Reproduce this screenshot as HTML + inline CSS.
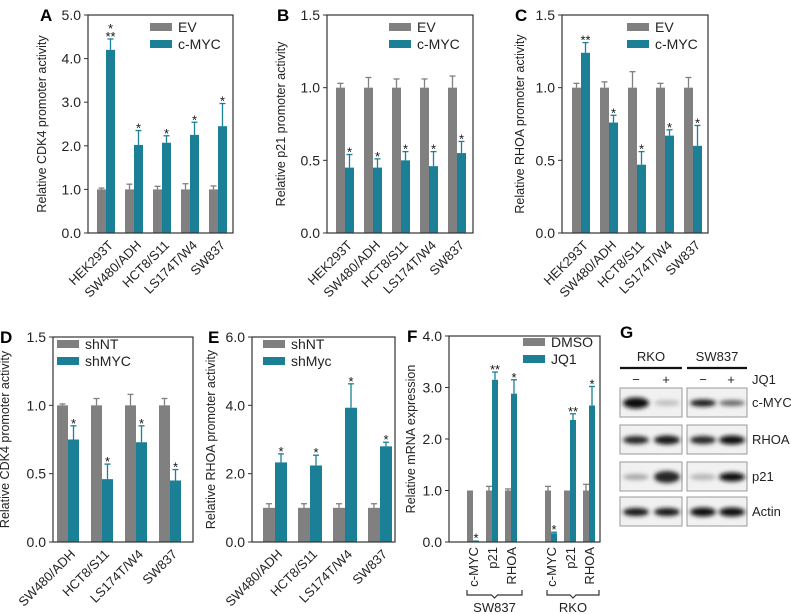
<!DOCTYPE html>
<html><head><meta charset="utf-8"><style>
html,body{margin:0;padding:0;background:#fff}
svg{display:block;font-family:"Liberation Sans",Arial,sans-serif}
</style></head><body>
<svg id="fig" width="791" height="614" viewBox="0 0 791 614">
<defs><filter id="blur" x="-50%" y="-100%" width="200%" height="300%"><feGaussianBlur stdDeviation="2.2"/></filter></defs>
</svg>
<script>
const aCats=["HEK293T","SW480/ADH","HCT8/S11","LS174T/W4","SW837"];
const aEV=[1,1,1,1,1]; const aEVerr=[0.03,0.12,0.07,0.13,0.08];
const aMYC=[4.2,2.02,2.07,2.25,2.45]; const aMYCerr=[0.25,0.33,0.16,0.29,0.52];
const aSig=["*|**","*","*","*","*"];
const aTicks=[0,1,2,3,4,5];
const bEV=[1,1,1,1,1]; const bEVerr=[0.03,0.07,0.06,0.06,0.08];
const bMYC=[0.45,0.45,0.5,0.46,0.55]; const bMYCerr=[0.09,0.06,0.06,0.1,0.08];
const bSig=["*","*","*","*","*"];
const bTicks=[0,0.5,1.0,1.5];
const cEV=[1,1,1,1,1]; const cEVerr=[0.03,0.04,0.11,0.03,0.07];
const cMYC=[1.24,0.76,0.47,0.67,0.6]; const cMYCerr=[0.07,0.05,0.09,0.04,0.14];
const cSig=["**","*","*","*","*"];
const dCats=["SW480/ADH","HCT8/S11","LS174T/W4","SW837"];
const dNT=[1,1,1,1]; const dNTerr=[0.01,0.05,0.08,0.05];
const dSH=[0.75,0.46,0.73,0.45]; const dSHerr=[0.1,0.11,0.12,0.08];
const dSig=["*","*","*","*"];
const eNT=[1,1,1,1]; const eNTerr=[0.12,0.12,0.12,0.12];
const eSH=[2.33,2.24,3.93,2.8]; const eSHerr=[0.25,0.3,0.7,0.12];
const eSig=["*","*","*","*"];
const eTicks=[0,2,4,6];
const fCats=["c-MYC","p21","RHOA","c-MYC","p21","RHOA"];
const fDMSO=[1,1,1,1,1,1]; const fDMSOerr=[0,0.08,0.03,0.08,0,0.12];
const fJQ1=[0.03,3.15,2.88,0.17,2.37,2.65]; const fJQ1err=[0,0.15,0.27,0.02,0.12,0.37];
const fSig=["*","**","*","*","**","*"];
const fTicks=[0,1,2,3,4];

const GRAY="#808080", TEAL="#1b8096";
const svg=document.getElementById('fig');
const NS="http://www.w3.org/2000/svg";
function mk(tag,attrs,parent,text){const e=document.createElementNS(NS,tag);for(const k in attrs)e.setAttribute(k,attrs[k]);if(text!==undefined)e.textContent=text;(parent||svg).appendChild(e);return e;}

function panel(p){
  const g=mk('g',{});
  
  
  const ymax=p.ticks[p.ticks.length-1];
  const y=v=>p.y0-(v/ymax)*(p.y0-p.top);
  const L=mk('text',{x:p.letterX,y:p.top+6,'font-size':17,'font-weight':'bold'},g,p.letter);
  
  
  p.ticks.forEach(t=>{
    const yy=y(t);
    mk('line',{x1:p.x0-4,x2:p.x0,y1:yy,y2:yy,stroke:'#333','stroke-width':1},g);
    const tt=mk('text',{x:p.x0-7,y:yy+5,'font-size':14,'text-anchor':'end',fill:'#222'},g,t.toFixed(1));
    
    
  });
  const yt=mk('text',{x:0,y:0,'font-size':12.5,'text-anchor':'middle',fill:'#222',transform:`translate(${p.x0-p.titleOff},${(p.top+p.y0)/2}) rotate(-90)`},g,p.title);
  
  
  const w=p.bw;
  p.cats.forEach((c,i)=>{
    const cx=p.x0+p.off+p.pos(i);
    [[p.s1,p.e1,GRAY,-1],[p.s2,p.e2,TEAL,0]].forEach(([s,e,col,side])=>{
      const bx=cx+side*w;
      const r=mk('rect',{x:bx,y:y(s[i]),width:w,height:p.y0-y(s[i]),fill:col},g);
      
      
      if(e[i]>0){
        const ey=y(s[i]+e[i]);const mx=bx+w/2;
        mk('line',{x1:mx,x2:mx,y1:y(s[i]),y2:ey,stroke:col,'stroke-width':1.3},g);
        mk('line',{x1:mx-3,x2:mx+3,y1:ey,y2:ey,stroke:col,'stroke-width':1.3},g);
      }
    });
    const top=y(p.s2[i]+p.e2[i]);
    const parts=p.sig[i].split('|');
    parts.reverse().forEach((sg,k)=>{
      const st=mk('text',{x:cx+w/2,y:top+2-k*8,'font-size':13,'text-anchor':'middle',fill:'#111'},g,sg);
      
      
    });
    let lt;
    if(p.vertical){
      lt=mk('text',{x:0,y:0,'font-size':13,'text-anchor':'end',fill:'#222',transform:`translate(${cx+5},${p.y0+5}) rotate(-90)`},g,c);
    }else{
      lt=mk('text',{x:0,y:0,'font-size':13,'text-anchor':'end',fill:'#222',transform:`translate(${cx+8},${p.y0+13}) rotate(-45)`},g,c);
    }
    
    
  });
  mk('rect',{x:p.x0,y:p.top,width:p.x1-p.x0,height:p.y0-p.top,fill:'none',stroke:'#333','stroke-width':1.2},g);
  p.legend.forEach((lab,k)=>{
    const ly=p.legY+k*17;
    const sw=mk('rect',{x:p.legX,y:ly,width:22,height:8,fill:k?TEAL:GRAY},g);
    
    
    const tx=mk('text',{x:p.legX+28,y:ly+9,'font-size':14,fill:'#222'},g,lab);
    
    
  });
}
const abcPos=i=>28*i;
panel({name:'panel-a',letter:'A',letterX:40,x0:88,x1:233,top:15,y0:233,off:18,pos:abcPos,bw:9,ticks:aTicks,cats:aCats,s1:aEV,e1:aEVerr,s2:aMYC,e2:aMYCerr,sig:aSig,title:'Relative CDK4 promoter activity',titleOff:42,legend:['EV','c-MYC'],legX:150,legY:23});
panel({name:'panel-b',letter:'B',letterX:277,x0:327,x1:473,top:15,y0:233,off:18,pos:abcPos,bw:9,ticks:bTicks,cats:aCats,s1:bEV,e1:bEVerr,s2:bMYC,e2:bMYCerr,sig:bSig,title:'Relative p21 promoter activity',titleOff:42,legend:['EV','c-MYC'],legX:389,legY:23});
panel({name:'panel-c',letter:'C',letterX:515,x0:562,x1:708,top:15,y0:233,off:19,pos:abcPos,bw:9,ticks:bTicks,cats:aCats,s1:cEV,e1:cEVerr,s2:cMYC,e2:cMYCerr,sig:cSig,title:'Relative RHOA promoter activity',titleOff:38,legend:['EV','c-MYC'],legX:627,legY:23});
panel({name:'panel-d',letter:'D',letterX:0,x0:53,x1:193,top:337,y0:542,off:15,pos:i=>34*i,bw:11,ticks:bTicks,cats:dCats,s1:dNT,e1:dNTerr,s2:dSH,e2:dSHerr,sig:dSig,title:'Relative CDK4 promoter activity',titleOff:44,legend:['shNT','shMYC'],legX:57,legY:340});
panel({name:'panel-e',letter:'E',letterX:208,x0:252,x1:395,top:337,y0:542,off:23,pos:i=>35*i,bw:12,ticks:eTicks,cats:dCats,s1:eNT,e1:eNTerr,s2:eSH,e2:eSHerr,sig:eSig,title:'Relative RHOA promoter activity',titleOff:37,legend:['shNT','shMyc'],legX:263,legY:340});
panel({name:'panel-f',letter:'F',letterX:407,x0:449,x1:600,top:336,y0:542,off:24,pos:i=>19*(i%3)+78*Math.floor(i/3),bw:6,ticks:fTicks,cats:fCats,s1:fDMSO,e1:fDMSOerr,s2:fJQ1,e2:fJQ1err,sig:fSig,title:'Relative mRNA expression',titleOff:34,legend:['DMSO','JQ1'],legX:523,legY:338,vertical:true});
// F brackets
[["SW837",467,522],["RKO",547,599]].forEach(([lab,a,b])=>{
  const p=mk('path',{d:`M${a},590 v5 h${(b-a)/2-3} l3,3 l3,-3 h${(b-a)/2-3} v-5`,fill:'none',stroke:'#333','stroke-width':1.2});
  
  
  const t=mk('text',{x:(a+b)/2,y:612,'font-size':13,'text-anchor':'middle',fill:'#222'},svg,lab);
  
  
});
// G western blot
const gl=mk('text',{x:620,y:338,'font-size':17,'font-weight':'bold'},svg,'G');


[["RKO",620,682],["SW837",687,747]].forEach(([lab,a,b])=>{
  const t=mk('text',{x:(a+b)/2,y:361,'font-size':13,'text-anchor':'middle',fill:'#222'},svg,lab);
  
  
  mk('line',{x1:a,x2:b,y1:368,y2:368,stroke:'#111','stroke-width':2.2});
  [["−",a+16],["+",b-16]].forEach(([s,x])=>{mk('text',{x:x,y:384,'font-size':13,'text-anchor':'middle',fill:'#222'},svg,s);});
});
const jq=mk('text',{x:752,y:384,'font-size':13,fill:'#222'},svg,'JQ1');


const rows=["c-MYC","RHOA","p21","Actin"];
const rowY=[388,425,462,497];
const bands=[[[0.95,9],[0.25,4],[0.9,5],[0.6,4]],[[0.85,6],[0.9,7],[0.85,6],[0.95,7]],[[0.35,4],[0.85,10],[0.3,4],[0.95,7]],[[0.9,6],[0.9,6],[0.95,7],[0.95,7]]];
const laneX=[636,667,703,732];
rows.forEach((r,ri)=>{
  [[620,682],[687,747]].forEach(([a,b])=>{
    const bx=mk('rect',{x:a,y:rowY[ri],width:b-a,height:29,fill:'#f1f1f1',stroke:'#999','stroke-width':1});
    
    
  });
  laneX.forEach((lx,li)=>{
    const [dark,h]=bands[ri][li];
    const c=Math.round(255*(1-dark));
    mk('ellipse',{cx:lx,cy:rowY[ri]+15,rx:13,ry:h/2+1,fill:`rgb(${c},${c},${c})`,filter:'url(#blur)'});
  });
  const t=mk('text',{x:752,y:rowY[ri]+19,'font-size':13,fill:'#222'},svg,r);
  
  
});
</script>
</body></html>
